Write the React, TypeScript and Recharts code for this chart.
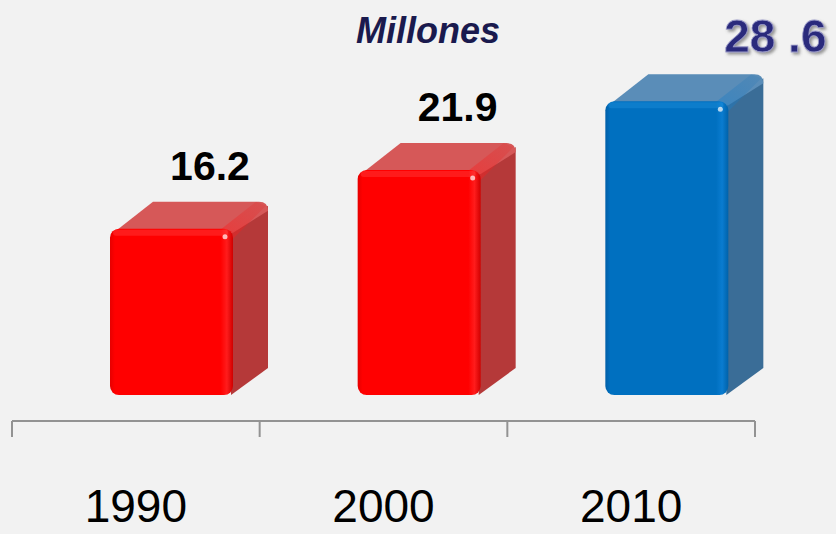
import { BarChart, Bar, XAxis, YAxis, LabelList } from "recharts";

const years = ["1990", "2000", "2010"];
const populations = [16.2, 21.9, 28.6];
const valueLabels = ["16.2", "21.9", "28 .6"];
const unitLabel = "Millones";

const W = 836;
const H = 534;
const MARGIN = { top: 0, right: 81, bottom: 0, left: 12 };
const PLOT_W = W - MARGIN.left - MARGIN.right;
const AXIS_H = 113;

// 3D box geometry
const DEPTH_X = 35;
const DEPTH_Y = 27;
const SHIFT = 36;

const FONT = "'Liberation Sans', Arial, sans-serif";

const data = years.map((year, i) => ({
  year,
  value: populations[i],
  label: valueLabels[i],
}));

const palette = {
  red: { front: "#ff0000", light: "#ff5a5a", top: "#d65858", side: "#b53939" },
  blue: { front: "#0070c0", light: "#2a9ae6", top: "#5a8db8", side: "#3a6d97" },
};

function Box(props: any) {
  const { x, y, width, height, index } = props;
  const c = index === years.length - 1 ? palette.blue : palette.red;
  const id = index === years.length - 1 ? "blue" : "red";
  const fx = x + SHIFT;
  const top = y;
  const bottom = y + height;
  const r = 9;
  return (
    <g>
      <polygon
        points={`${fx + width - 2},${top + 4} ${fx + width + DEPTH_X},${top - DEPTH_Y + 4} ${fx + width + DEPTH_X},${bottom - DEPTH_Y} ${fx + width - 2},${bottom}`}
        fill={c.side}
      />
      <path
        d={`M${fx + 6},${top + 2} L${fx + DEPTH_X + 8},${top - DEPTH_Y}
            L${fx + width + DEPTH_X - r},${top - DEPTH_Y}
            Q${fx + width + DEPTH_X},${top - DEPTH_Y} ${fx + width + DEPTH_X},${top - DEPTH_Y + r}
            L${fx + width},${top + 4} Z`}
        fill={c.top}
      />
      <polygon
        points={`${fx + width - 14},${top + 2} ${fx + width + DEPTH_X - 12},${top - DEPTH_Y} ${fx + width + DEPTH_X - 2},${top - DEPTH_Y + 4} ${fx + width},${top + 10}`}
        fill={`url(#edge-${id})`}
        opacity={0.5}
      />
      <rect x={fx} y={top} width={width} height={height} rx={r} ry={r} fill={`url(#front-${id})`} />
      <rect x={fx + 3} y={top + 1} width={width - 8} height={6} rx={3} fill={c.light} opacity={0.3} />
      <circle cx={fx + width - 8} cy={top + 8} r={2.5} fill="#ffffff" opacity={0.7} />
    </g>
  );
}

function ValueLabel(props: any) {
  const { x, y, index, value } = props;
  const last = index === years.length - 1;
  const fx = x + SHIFT;
  const baseY = y - DEPTH_Y - 22;
  if (last) {
    return (
      <text
        x={fx + 170}
        y={baseY}
        textAnchor="middle"
        fontFamily={FONT}
        fontWeight="bold"
        fontSize={46}
        fill="#2b2b7c"
        stroke="#9a9ac8"
        strokeWidth={0.8}
        filter="url(#shadow)"
      >
        {valueLabels[index] ?? value}
      </text>
    );
  }
  return (
    <text
      x={fx + 100}
      y={baseY}
      textAnchor="middle"
      fontFamily={FONT}
      fontWeight="bold"
      fontSize={41}
      fill="#000000"
    >
      {valueLabels[index] ?? value}
    </text>
  );
}

function YearTick(props: any) {
  const { x, y, payload, index } = props;
  const half = PLOT_W / years.length / 2;
  return (
    <g>
      <line x1={x - half} y1={y} x2={x - half} y2={y + 16} stroke="#939393" strokeWidth={2} />
      {index === years.length - 1 && (
        <line x1={x + half} y1={y} x2={x + half} y2={y + 16} stroke="#939393" strokeWidth={2} />
      )}
      <text x={x} y={y + 101} textAnchor="middle" fontFamily={FONT} fontSize={46} fill="#000000">
        {payload.value}
      </text>
    </g>
  );
}

export default function App() {
  return (
    <div
      style={{
        position: "fixed",
        left: 0,
        top: 0,
        width: W,
        height: H,
        background: "#f2f2f2",
      }}
    >
      <BarChart width={W} height={H} data={data} margin={MARGIN} barSize={123}>
        <defs>
          <linearGradient id="front-red" x1="0" y1="0" x2="1" y2="0">
            <stop offset="0" stopColor="#e60000" />
            <stop offset="0.04" stopColor="#ff0000" />
            <stop offset="0.9" stopColor="#ff0000" />
            <stop offset="0.95" stopColor="#ff1c1c" />
            <stop offset="1" stopColor="#d00000" />
          </linearGradient>
          <linearGradient id="front-blue" x1="0" y1="0" x2="1" y2="0">
            <stop offset="0" stopColor="#005fa8" />
            <stop offset="0.04" stopColor="#0070c0" />
            <stop offset="0.9" stopColor="#0070c0" />
            <stop offset="0.95" stopColor="#0a7cd0" />
            <stop offset="1" stopColor="#0062aa" />
          </linearGradient>
          <linearGradient id="edge-red" x1="0" y1="1" x2="1" y2="0">
            <stop offset="0" stopColor="#ff2020" />
            <stop offset="1" stopColor="#e02020" stopOpacity={0.3} />
          </linearGradient>
          <linearGradient id="edge-blue" x1="0" y1="1" x2="1" y2="0">
            <stop offset="0" stopColor="#1a80cc" />
            <stop offset="1" stopColor="#2070b0" stopOpacity={0.3} />
          </linearGradient>
          <filter id="shadow" x="-20%" y="-20%" width="140%" height="140%">
            <feDropShadow dx="2" dy="2" stdDeviation="1.5" floodColor="#555" floodOpacity="0.6" />
          </filter>
        </defs>
        <text
          x={428}
          y={43}
          textAnchor="middle"
          fontFamily={FONT}
          fontWeight="bold"
          fontStyle="italic"
          fontSize={36}
          fill="#1a1a4e"
        >
          {unitLabel}
        </text>
        <XAxis
          dataKey="year"
          height={AXIS_H}
          axisLine={{ stroke: "#939393", strokeWidth: 2 }}
          tickLine={false}
          tickSize={0}
          tickMargin={0}
          tick={<YearTick />}
          interval={0}
        />
        <YAxis hide type="number" domain={[-2.53, 38.46]} allowDataOverflow />
        <Bar dataKey="value" shape={<Box />} isAnimationActive={false}>
          <LabelList dataKey="value" content={<ValueLabel />} />
        </Bar>
      </BarChart>
    </div>
  );
}
